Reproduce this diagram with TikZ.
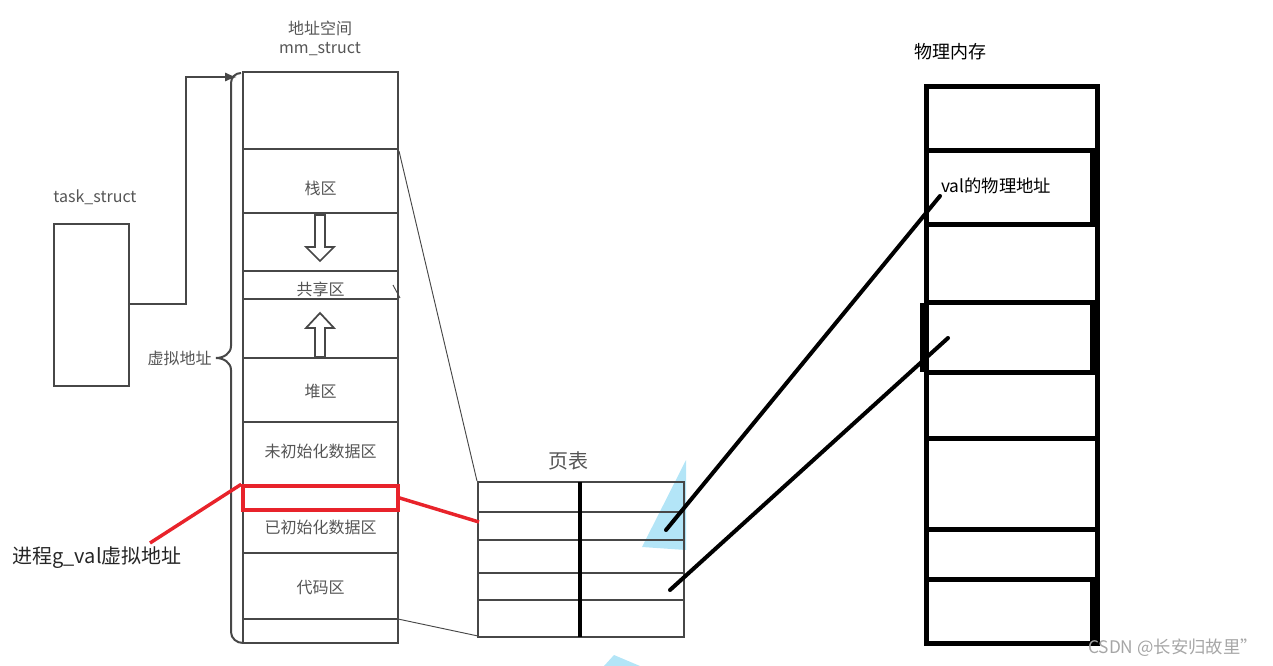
\documentclass[tikz,border=0pt]{standalone}
\usepackage{fontspec}
\setmainfont{Noto Sans CJK SC}
\usetikzlibrary{calc,arrows.meta}
\definecolor{gline}{HTML}{474747}
\definecolor{gtext}{HTML}{555555}
\definecolor{redl}{HTML}{E8232B}
\definecolor{blueart}{HTML}{B3E5F7}
\tikzset{
  cell/.style={draw=gline,line width=1.5pt,minimum width=116.25pt,inner sep=0pt},
  lbl/.style={text=gtext,inner sep=0pt,font=\fontsize{12}{14}\selectfont},
  ptline/.style={draw=gline,line width=1.5pt},
  pmline/.style={draw=black,line width=3.75pt},
  redc/.style={draw=redl,line width=2.6pt},
  blackc/.style={draw=black,line width=3pt,line cap=round},
  thin/.style={draw=gline,line width=0.7pt},
  hollow/.style={draw=gline,line width=1.3pt,fill=white}
}
\begin{document}
\begin{tikzpicture}[x=0.75pt,y=-0.75pt]
\useasboundingbox (0,0) rectangle (1273,666);
% light blue artifacts
\fill[blueart] (686,460) -- (642,547) -- (686,550) -- cycle;
\fill[blueart] (614,655) -- (640,666) -- (604,666) -- cycle;

% titles
\node[lbl] (t1) at (320,28) {地址空间};
\node[lbl] (t2) at (320,49) {mm\_struct};
\node[lbl] (tt) at (95,197) {task\_struct};

% task_struct box
\node[draw=gline,line width=1.5pt,minimum width=56.25pt,minimum height=121.5pt,inner sep=0pt] (task) at (91.5,305) {};

% mm_struct column
\node[cell,minimum height=57.75pt] (r0) at (320.5,110.5) {};
\node[cell,minimum height=48pt] (stack) at (320.5,181) {};
\node[cell,minimum height=43.5pt] (gap1) at (320.5,242) {};
\node[cell,minimum height=21pt] (share) at (320.5,285) {};
\node[cell,minimum height=44.25pt] (gap2) at (320.5,328.5) {};
\node[cell,minimum height=48pt] (heap) at (320.5,390) {};
\node[cell,minimum height=48pt] (bss) at (320.5,454) {};
\node[cell,minimum height=32.25pt] (data) at (320.5,531.5) {};
\node[cell,minimum height=49.5pt] (code) at (320.5,586) {};
\node[cell,minimum height=18pt] (rb) at (320.5,631) {};
\node[lbl] (lstack) at ($(stack)+(0,7)$) {栈区};
\node[lbl] (lshare) at ($(share)+(0,4)$) {共享区};
\node[lbl] (lheap) at ($(heap)+(0,1)$) {堆区};
\node[lbl] (lbss) at ($(bss)+(0,-3)$) {未初始化数据区};
\node[lbl] (ldata) at ($(data)+(0,-4)$) {已初始化数据区};
\node[lbl] (lcode) at ($(code)+(0,2)$) {代码区};
% red box
\node[draw=redl,line width=2.6pt,minimum width=116.25pt,minimum height=18pt,inner sep=0pt] (gval) at (320.5,498) {};

% hollow arrows
\draw[hollow] (315,215) -- (325,215) -- (325,247) -- (334,247) -- (320,261) -- (306,247) -- (315,247) -- cycle;
\draw[hollow] (315,357) -- (325,357) -- (325,328) -- (334,328) -- (320,313) -- (306,328) -- (315,328) -- cycle;

% brace
\draw[gline,line width=1.5pt] (241,73) to[out=180,in=90] (231,83) -- (231,346) to[out=270,in=0] (216,358) to[out=0,in=90] (231,370) -- (231,632) to[out=270,in=180] (243,643);
\node[lbl,anchor=east] (va) at (212,358) {虚拟地址};

% task -> mm_struct arrow
\coordinate (tk) at (task.east |- 0,304);
\coordinate (mmtop) at (237,77);
\draw[gline,line width=1.5pt,-{Latex[length=9pt,width=7pt]}] (tk) -- (186,304) -- (186,77) -- (mmtop);

% small tick
\draw[thin] (393,285) -- (400,298);

% page table
\node[lbl,font=\fontsize{15}{17}\selectfont] (ptl) at (568,461) {页表};
\node[ptline,minimum width=154.5pt,minimum height=116.25pt,inner sep=0pt] (pt) at (581,559.5) {};
\draw[ptline] (478,512) -- (684,512);
\draw[ptline] (478,540) -- (684,540);
\draw[ptline] (478,573) -- (684,573);
\draw[ptline] (478,600) -- (684,600);
\draw[black,line width=3pt] (580,482) -- (580,637);

% thin connectors stack -> page table
\coordinate (s1) at (399,151);
\coordinate (p1) at (477,481);
\coordinate (s2) at (398,619);
\coordinate (p2) at (478,636);
\draw[thin] (s1) -- (p1);
\draw[thin] (s2) -- (p2);

% red connectors
\node[text=black!85,inner sep=0pt,anchor=east,font=\fontsize{15}{17}\selectfont] (rl) at (182,558) {进程g\_val虚拟地址};
\coordinate (rl1) at (150,543);
\coordinate (pr2) at (479,522);
\draw[redc] (rl1) -- (gval.north west);
\draw[redc] (gval.east) -- (pr2);

% physical memory
\node[inner sep=0pt,font=\fontsize{13.5}{15}\selectfont] (pml) at (950,52) {物理内存};
\node[pmline,minimum width=128.25pt,minimum height=417pt,inner sep=0pt] (pm) at (1011.5,365) {};
\foreach \yy in {151,225,303,372,438,529,579} \draw[pmline] (926,\yy) -- (1097,\yy);
\draw[pmline] (1092,151) -- (1092,225);
\draw[pmline] (922,303) -- (922,372);
\draw[pmline] (1092,303) -- (1092,372);
\draw[pmline] (1092,579) -- (1092,643);
\node[inner sep=0pt,anchor=west,font=\fontsize{13}{15}\selectfont] (val) at (941,186) {val的物理地址};

% black connectors
\coordinate (a1) at (666,530);
\coordinate (b1) at (940,196);
\coordinate (a2) at (670,590);
\coordinate (b2) at (948,338);
\draw[blackc] (a1) -- (b1);
\draw[blackc] (a2) -- (b2);

% watermark
\node[text=gray!70,inner sep=0pt,anchor=east,font=\fontsize{13}{15}\selectfont] (wm) at (1258,648) {CSDN @长安归故里”};
\end{tikzpicture}
\end{document}
